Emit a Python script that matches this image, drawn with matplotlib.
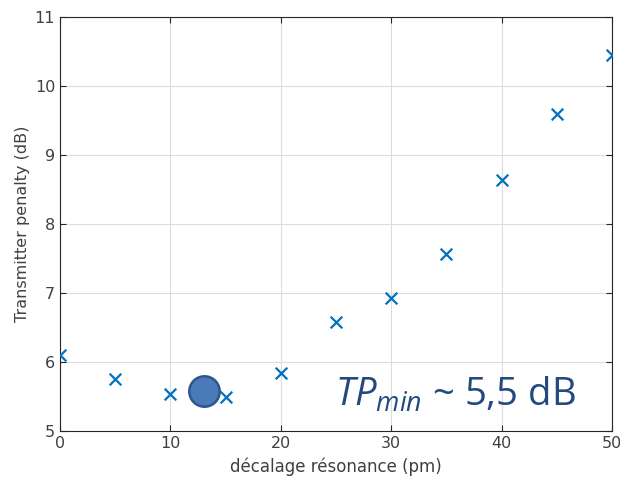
import matplotlib
matplotlib.use("Agg")
import matplotlib.pyplot as plt

# ========= data =========
offset_pm = [0, 5, 10, 15, 20, 25, 30, 35, 40, 45, 50]
penalty_db = [6.10, 5.75, 5.54, 5.50, 5.84, 6.58, 6.93, 7.56, 8.64, 9.59, 10.45]
min_x = [13]
min_y = [5.58]

plt.rcParams["font.family"] = "DejaVu Sans"
plt.rcParams["mathtext.fontset"] = "custom"
plt.rcParams["mathtext.it"] = "Open Sans:italic"
plt.rcParams["mathtext.rm"] = "Open Sans"

fig = plt.figure(figsize=(6.2, 4.78), dpi=100)
ax = fig.add_axes([60 / 620, 47 / 478, 552 / 620, 414 / 478])

ax.scatter(offset_pm, penalty_db, marker="x", s=70, color="#0072BD",
           linewidths=1.6, zorder=3)
ax.scatter(min_x, min_y, s=480, color="#4a7ab8", edgecolors="#2c5690",
           linewidths=1.8, zorder=4)

ax.text(24.9, 5.37, r"$TP_{min}$ ~ 5,5 dB", fontsize=27.5, color="#23497f",
        family="Open Sans", ha="left", va="baseline", zorder=5)

ax.set_xlim(0, 50)
ax.set_ylim(5, 11)
ax.set_xticks(range(0, 51, 10))
ax.set_yticks(range(5, 12))
ax.grid(True, color="#dcdcdc", linewidth=0.8)
ax.set_axisbelow(True)
ax.tick_params(direction="in", colors="#262626", labelcolor="#404040",
               labelsize=11.5, length=4, top=True, right=True)
for s in ax.spines.values():
    s.set_color("#262626")
    s.set_linewidth(0.8)

ax.set_xlabel("décalage résonance (pm)", fontsize=12, color="#404040", labelpad=5)
ax.set_ylabel("Transmitter penalty (dB)", fontsize=11.5, color="#404040", labelpad=3)

fig.savefig("out.png", dpi=100)
